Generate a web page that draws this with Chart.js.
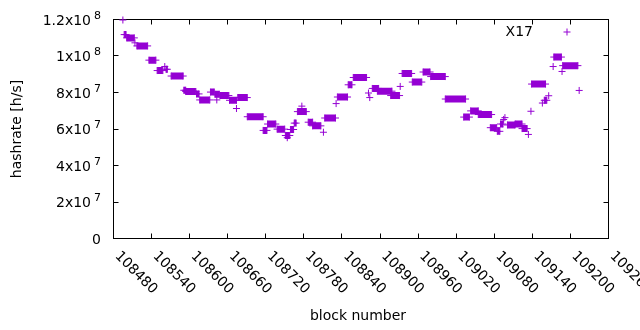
<!DOCTYPE html>
<html>
<head>
<meta charset="utf-8">
<script src="https://cdn.jsdelivr.net/npm/chart.js@4.4.1/dist/chart.umd.min.js"></script>
<style>
  html, body { margin: 0; padding: 0; background: #fff; }
  #wrap { width: 640px; height: 330px; }
</style>
</head>
<body>
<div id="wrap"><canvas id="chart"></canvas></div>
<script>
// axis ticks
const xTickValues = [108480, 108540, 108600, 108660, 108720, 108780, 108840, 108900, 108960, 109020, 109080, 109140, 109200, 109260];
const xTickLabels = ['108480', '108540', '108600', '108660', '108720', '108780', '108840', '108900', '108960', '109020', '109080', '109140', '109200', '109260'];
const yTickValues = [0, 2e7, 4e7, 6e7, 8e7, 1e8, 1.2e8];
const yTickBase = ['0', '2x10', '4x10', '6x10', '8x10', '1x10', '1.2x10'];
const yTickExp = ['', '7', '7', '7', '7', '8', '8'];

// hashrate per block, read as runs of blocks that share one value
const runStart = [108494, 108496, 108500, 108513, 108516, 108535, 108548, 108560, 108562, 108570,
  108590, 108593, 108610, 108615, 108632, 108639, 108642, 108647, 108662, 108673,
  108675, 108690, 108715, 108722, 108737, 108750, 108753, 108758, 108764, 108769,
  108776, 108786, 108793, 108810, 108812, 108830, 108832, 108849, 108857, 108881,
  108883, 108887, 108895, 108916, 108931, 108934, 108950, 108967, 108979, 109002,
  109031, 109042, 109054, 109073, 109084, 109089, 109094, 109096, 109100, 109112,
  109123, 109133, 109137, 109138, 109155, 109158, 109165, 109172, 109173, 109186,
  109187, 109213];
const runEnd = [108494, 108499, 108512, 108513, 108533, 108546, 108557, 108560, 108564, 108589,
  108593, 108609, 108614, 108631, 108638, 108646, 108642, 108661, 108673, 108673,
  108690, 108715, 108721, 108735, 108749, 108757, 108753, 108763, 108767, 108783,
  108776, 108793, 108806, 108810, 108829, 108830, 108848, 108855, 108878, 108881,
  108883, 108897, 108918, 108930, 108931, 108949, 108965, 108978, 109002, 109034,
  109040, 109054, 109075, 109083, 109088, 109093, 109094, 109096, 109112, 109123,
  109131, 109133, 109137, 109160, 109155, 109162, 109165, 109172, 109185, 109186,
  109211, 109213];
const runHashrate = [12.0e7, 11.2e7, 11.02e7, 10.75e7, 10.58e7, 9.8e7, 9.23e7, 9.45e7, 9.3e7, 8.93e7,
  8.15e7, 8.08e7, 7.95e7, 7.62e7, 8.05e7, 7.93e7, 7.62e7, 7.86e7, 7.6e7, 7.15e7,
  7.75e7, 6.7e7, 5.95e7, 6.3e7, 6.02e7, 5.67e7, 5.55e7, 6.0e7, 6.35e7, 6.98e7,
  7.28e7, 6.4e7, 6.2e7, 5.85e7, 6.63e7, 7.42e7, 7.78e7, 8.45e7, 8.85e7, 8.0e7,
  7.75e7, 8.25e7, 8.1e7, 7.86e7, 8.36e7, 9.07e7, 8.6e7, 9.15e7, 8.9e7, 7.67e7,
  6.68e7, 7.02e7, 6.82e7, 6.1e7, 5.9e7, 6.3e7, 6.55e7, 6.65e7, 6.25e7, 6.3e7,
  6.05e7, 5.73e7, 7.0e7, 8.49e7, 7.45e7, 7.6e7, 7.85e7, 9.45e7, 9.97e7, 9.18e7,
  9.5e7, 8.14e7];

const seriesName = 'X17';
const purple = '#9400d3';
const font = '"DejaVu Sans", sans-serif';

let points = [];
for (let i = 0; i < runStart.length; i++) {
  points.push({x: runStart[i], y: runHashrate[i]});
  if (runEnd[i] !== runStart[i]) points.push({x: runEnd[i], y: runHashrate[i]});
  points.push({x: runEnd[i], y: null});
}

// gnuplot style frame, mirrored ticks, enhanced text labels
const gnuplotLook = {
  id: 'gnuplotLook',
  beforeDatasetsDraw(chart) {
    const {ctx, chartArea: a, scales: {x, y}} = chart;
    const L = Math.round(a.left) - 0.5, R = Math.round(a.right) - 0.5;
    const T = Math.round(a.top) - 0.5, B = Math.round(a.bottom) - 0.5;
    const tl = 5;
    ctx.save();
    ctx.strokeStyle = '#000';
    ctx.lineWidth = 1;
    ctx.beginPath();
    xTickValues.forEach(v => {
      const px = Math.round(x.getPixelForValue(v)) - 0.5;
      ctx.moveTo(px, B); ctx.lineTo(px, B - tl);
      ctx.moveTo(px, T); ctx.lineTo(px, T + tl);
    });
    yTickValues.forEach(v => {
      const py = Math.round(y.getPixelForValue(v)) - 0.5;
      ctx.moveTo(L, py); ctx.lineTo(L + tl, py);
      ctx.moveTo(R, py); ctx.lineTo(R - tl, py);
    });
    ctx.stroke();
    ctx.strokeRect(L, T, R - L, B - T);
    ctx.restore();
  },
  afterDraw(chart) {
    const {ctx, chartArea: a, scales: {x, y}} = chart;
    ctx.save();
    ctx.fillStyle = '#000';

    // y tick labels with superscript exponent
    yTickValues.forEach((v, i) => {
      const py = y.getPixelForValue(v) + 1;
      ctx.font = '14px ' + font;
      const bw = ctx.measureText(yTickBase[i]).width;
      ctx.font = '11px ' + font;
      const ew = yTickExp[i] ? ctx.measureText(yTickExp[i]).width + 3 : 0;
      const x0 = 101 - bw - ew;
      ctx.textAlign = 'left';
      ctx.textBaseline = 'middle';
      ctx.font = '14px ' + font;
      ctx.fillText(yTickBase[i], x0, py);
      if (yTickExp[i]) {
        ctx.font = '11px ' + font;
        ctx.fillText(yTickExp[i], x0 + bw + 3, py - 5);
      }
    });

    // x tick labels, rotated down to the right
    ctx.font = '14px ' + font;
    ctx.textAlign = 'left';
    ctx.textBaseline = 'middle';
    xTickValues.forEach((v, i) => {
      const px = x.getPixelForValue(v);
      ctx.save();
      ctx.translate(px + 3, a.bottom + 15);
      ctx.rotate(Math.PI / 4);
      ctx.fillText(xTickLabels[i], 0, 0);
      ctx.restore();
    });

    // axis titles
    ctx.textAlign = 'center';
    ctx.fillText('block number', 358, 316);
    ctx.save();
    ctx.translate(17, 129);
    ctx.rotate(-Math.PI / 2);
    ctx.fillText('hashrate [h/s]', 0, 0);
    ctx.restore();

    // key
    ctx.textAlign = 'right';
    ctx.fillText(seriesName, 533, 32);
    ctx.strokeStyle = purple;
    ctx.lineWidth = 1;
    Chart.helpers.drawPoint(ctx, {pointStyle: 'cross', radius: 3.5, rotation: 0, borderWidth: 1}, 567, 32);
    ctx.restore();
  }
};

new Chart(document.getElementById('chart'), {
  type: 'line',
  data: {
    datasets: [{
      label: seriesName,
      data: points,
      borderColor: purple,
      backgroundColor: purple,
      borderWidth: 7,
      borderCapStyle: 'butt',
      spanGaps: false,
      tension: 0,
      pointStyle: 'cross',
      pointRadius: 3.5,
      pointBorderWidth: 1,
      pointBorderColor: purple,
      clip: false
    }]
  },
  options: {
    responsive: true,
    maintainAspectRatio: false,
    animation: false,
    events: [],
    layout: { padding: { left: 114, right: 31, top: 20, bottom: 91 } },
    scales: {
      x: { type: 'linear', display: false, min: 108480, max: 109260 },
      y: { type: 'linear', display: false, min: 0, max: 1.2e8 }
    },
    plugins: {
      legend: { display: false },
      tooltip: { enabled: false }
    }
  },
  plugins: [gnuplotLook]
});
</script>
</body>
</html>
